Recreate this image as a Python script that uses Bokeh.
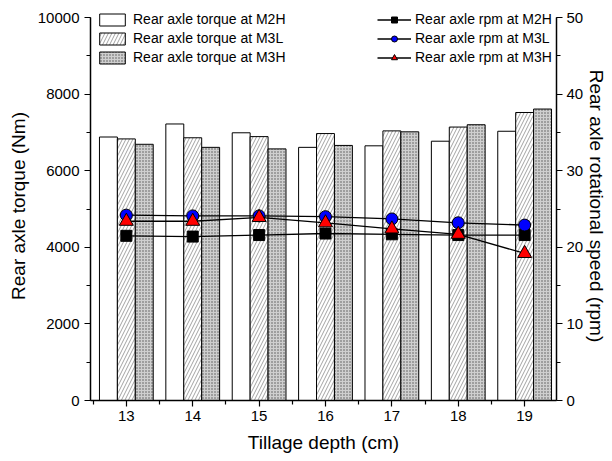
from bokeh.plotting import figure
from bokeh.models import (Range1d, LinearAxis, Legend, LegendItem, FixedTicker,
                          SingleIntervalTicker, ColumnDataSource)
from bokeh.embed import file_html
from bokeh.resources import INLINE

# ---- data ----
depth = [13, 14, 15, 16, 17, 18, 19]
torque_m2h = [6880, 7220, 6990, 6610, 6650, 6770, 7030]
torque_m3l = [6830, 6860, 6890, 6970, 7040, 7140, 7520]
torque_m3h = [6690, 6610, 6570, 6660, 7015, 7200, 7610]
rpm_m2h = [21.5, 21.4, 21.6, 21.8, 21.7, 21.6, 21.6]
rpm_m3l = [24.2, 24.1, 24.1, 24.0, 23.7, 23.2, 22.9]
rpm_m3h = [23.4, 23.4, 23.9, 23.2, 22.4, 21.7, 19.2]
x_ticks = [13, 14, 15, 16, 17, 18, 19]
x_minor = [12.5, 13.5, 14.5, 15.5, 16.5, 17.5, 18.5, 19.5]

FONT = "Liberation Sans"
off = 0.27
bw = 0.27
torque_max = 10000
rpm_max = 50
head = 1.0157  # a little headroom above the axes' ends for the legends

p = figure(width=610, height=459, output_backend="svg", toolbar_location=None,
           x_range=Range1d(12.46, 19.48), y_range=Range1d(0, torque_max * head),
           min_border_left=90, min_border_right=52, min_border_top=11,
           min_border_bottom=59)
p.extra_y_ranges = {"rpm": Range1d(0, rpm_max * head)}
p.outline_line_color = None
p.xgrid.visible = False
p.ygrid.visible = False
p.background_fill_color = "white"

src = ColumnDataSource(dict(
    x1=[d - off for d in depth], x2=list(depth), x3=[d + off for d in depth],
    t1=torque_m2h, t2=torque_m3l, t3=torque_m3h,
    r1=rpm_m2h, r2=rpm_m3l, r3=rpm_m3h, d=depth))

b1 = p.vbar(x="x1", top="t1", width=bw, bottom=0, source=src,
            fill_color="white", line_color="black", line_width=1)
b2 = p.vbar(x="x2", top="t2", width=bw, bottom=0, source=src,
            fill_color="white", line_color="black", line_width=1,
            hatch_pattern="/", hatch_color="#8a8a8a", hatch_scale=7,
            hatch_weight=0.8)
b3 = p.vbar(x="x3", top="t3", width=bw, bottom=0, source=src,
            fill_color="#cfcfcf", line_color="black", line_width=1,
            hatch_pattern=".", hatch_color="#555555", hatch_scale=3,
            hatch_weight=1)

l1 = p.line(x="d", y="r1", source=src, y_range_name="rpm", line_color="black", line_width=1.3)
s1 = p.scatter(x="d", y="r1", source=src, y_range_name="rpm", marker="square",
               size=11, fill_color="black", line_color="black")
l2 = p.line(x="d", y="r2", source=src, y_range_name="rpm", line_color="black", line_width=1.3)
s2 = p.scatter(x="d", y="r2", source=src, y_range_name="rpm", marker="circle",
               size=12, fill_color="#0000ff", line_color="black", line_width=1)
l3 = p.line(x="d", y="r3", source=src, y_range_name="rpm", line_color="black", line_width=1.3)
s3 = p.scatter(x="d", y="r3", source=src, y_range_name="rpm", marker="triangle",
               size=14, fill_color="#ff0000", line_color="black", line_width=1)

# axes
xa = p.xaxis[0]
xa.ticker = FixedTicker(ticks=x_ticks, minor_ticks=x_minor)
xa.axis_label = "Tillage depth (cm)"
ya = p.yaxis[0]
ya.ticker = SingleIntervalTicker(interval=2000, num_minor_ticks=2)
ya.axis_label = "Rear axle torque (Nm)"
ya.bounds = (0, torque_max)
ra = LinearAxis(y_range_name="rpm", axis_label="Rear axle rotational speed (rpm)",
                ticker=SingleIntervalTicker(interval=10, num_minor_ticks=2),
                bounds=(0, rpm_max))
p.add_layout(ra, "right")

for ax in (xa, ya, ra):
    ax.axis_line_color = "black"
    ax.axis_line_width = 1.5
    ax.major_tick_line_color = "black"
    ax.minor_tick_line_color = "black"
    ax.major_tick_line_width = 1.2
    ax.minor_tick_line_width = 1.2
    ax.major_tick_in = 0
    ax.major_tick_out = 6
    ax.minor_tick_in = 0
    ax.minor_tick_out = 4
    ax.major_label_text_font = FONT
    ax.major_label_text_font_size = "15px"
    ax.major_label_text_color = "black"
    ax.axis_label_text_font = FONT
    ax.axis_label_text_font_size = "19px"
    ax.axis_label_text_font_style = "normal"
    ax.axis_label_text_color = "black"
    ax.major_label_standoff = 5
    ax.axis_label_standoff = 6
xa.major_label_standoff = 4
xa.axis_label_standoff = 8
ra.major_label_standoff = 4
ra.axis_label_standoff = 0

leg1 = Legend(items=[LegendItem(label="Rear axle torque at M2H", renderers=[b1]),
                     LegendItem(label="Rear axle torque at M3L", renderers=[b2]),
                     LegendItem(label="Rear axle torque at M3H", renderers=[b3])],
              location=(6, 335))
leg2 = Legend(items=[LegendItem(label="Rear axle rpm at M2H", renderers=[l1, s1]),
                     LegendItem(label="Rear axle rpm at M3L", renderers=[l2, s2]),
                     LegendItem(label="Rear axle rpm at M3H", renderers=[l3, s3])],
              location=(287, 335))
for lg, gw, st in ((leg1, 32, 5), (leg2, 34, 4)):
    lg.glyph_width = gw
    lg.glyph_height = 15
    lg.label_height = 15
    lg.spacing = 3
    lg.padding = 0
    lg.margin = 0
    lg.label_standoff = st
    lg.border_line_color = None
    lg.background_fill_alpha = 0
    lg.label_text_font = FONT
    lg.label_text_font_size = "14px"
    lg.label_text_color = "black"
    p.add_layout(lg, "center")

open("out.html", "w").write(file_html(p, INLINE))
